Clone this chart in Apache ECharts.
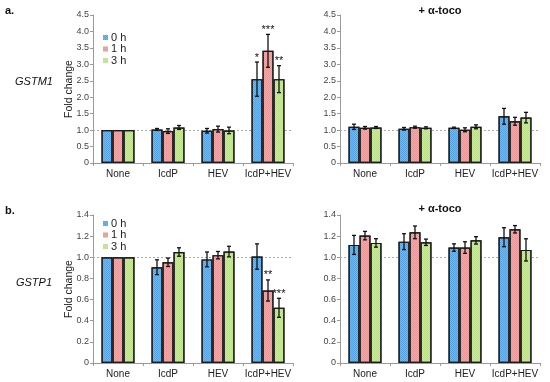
<!DOCTYPE html>
<html>
<head>
<meta charset="utf-8">
<script src="https://cdn.jsdelivr.net/npm/echarts@6/dist/echarts.min.js"></script>
<style>
html,body{margin:0;padding:0;background:#fff;}
#chart{width:550px;height:382px;}
</style>
</head>
<body>
<div id="chart"></div>
<script>
// ---------- DATA ----------
const categories = ['None', 'IcdP', 'HEV', 'IcdP+HEV'];
const timeLabels = ['0 h', '1 h', '3 h'];

// GSTM1 (panel a, left)
const gstm1_0h = [1.00, 1.02, 0.98, 2.55];
const gstm1_1h = [1.00, 0.97, 1.03, 3.41];
const gstm1_3h = [1.00, 1.08, 0.99, 2.55];
const gstm1_0h_err = [0, 0.03, 0.07, 0.52];
const gstm1_1h_err = [0, 0.07, 0.09, 0.50];
const gstm1_3h_err = [0, 0.06, 0.10, 0.41];
const gstm1_0h_sig = ['', '', '', '*'];
const gstm1_1h_sig = ['', '', '', '***'];
const gstm1_3h_sig = ['', '', '', '**'];

// GSTM1 + alpha-toco (panel a, right)
const gstm1Toco_0h = [1.10, 1.04, 1.07, 1.42];
const gstm1Toco_1h = [1.07, 1.09, 1.01, 1.27];
const gstm1Toco_3h = [1.08, 1.07, 1.10, 1.38];
const gstm1Toco_0h_err = [0.08, 0.04, 0.02, 0.24];
const gstm1Toco_1h_err = [0.04, 0.03, 0.06, 0.12];
const gstm1Toco_3h_err = [0.03, 0.03, 0.06, 0.16];

// GSTP1 (panel b, left)
const gstp1_0h = [1.00, 0.906, 0.98, 1.007];
const gstp1_1h = [1.00, 0.953, 1.02, 0.686];
const gstp1_3h = [1.00, 1.05, 1.054, 0.522];
const gstp1_0h_err = [0, 0.07, 0.07, 0.12];
const gstp1_1h_err = [0, 0.04, 0.035, 0.10];
const gstp1_3h_err = [0, 0.04, 0.05, 0.09];
const gstp1_0h_sig = ['', '', '', ''];
const gstp1_1h_sig = ['', '', '', '**'];
const gstp1_3h_sig = ['', '', '', '***'];

// GSTP1 + alpha-toco (panel b, right)
const gstp1Toco_0h = [1.117, 1.148, 1.092, 1.19];
const gstp1Toco_1h = [1.205, 1.236, 1.092, 1.265];
const gstp1Toco_3h = [1.136, 1.142, 1.16, 1.07];
const gstp1Toco_0h_err = [0.09, 0.075, 0.035, 0.09];
const gstp1Toco_1h_err = [0.04, 0.06, 0.055, 0.035];
const gstp1Toco_3h_err = [0.04, 0.03, 0.035, 0.105];

const noSig = ['', '', '', ''];

// ---------- STYLE ----------
const FONT = "'Liberation Sans', Arial, sans-serif";
const colors = ['#55a3e0', '#e69696', '#bce08a'];

const panels = [
  { vals: [gstm1_0h, gstm1_1h, gstm1_3h], errs: [gstm1_0h_err, gstm1_1h_err, gstm1_3h_err], sigs: [gstm1_0h_sig, gstm1_1h_sig, gstm1_3h_sig], max: 4.5, interval: 0.5, grid: { left: 93, top: 15, width: 200, height: 148 } },
  { vals: [gstm1Toco_0h, gstm1Toco_1h, gstm1Toco_3h], errs: [gstm1Toco_0h_err, gstm1Toco_1h_err, gstm1Toco_3h_err], sigs: [noSig, noSig, noSig], max: 4.5, interval: 0.5, grid: { left: 340, top: 15, width: 200, height: 148 } },
  { vals: [gstp1_0h, gstp1_1h, gstp1_3h], errs: [gstp1_0h_err, gstp1_1h_err, gstp1_3h_err], sigs: [gstp1_0h_sig, gstp1_1h_sig, gstp1_3h_sig], max: 1.4, interval: 0.2, grid: { left: 93, top: 215, width: 200, height: 148 } },
  { vals: [gstp1Toco_0h, gstp1Toco_1h, gstp1Toco_3h], errs: [gstp1Toco_0h_err, gstp1Toco_1h_err, gstp1Toco_3h_err], sigs: [noSig, noSig, noSig], max: 1.4, interval: 0.2, grid: { left: 340, top: 215, width: 200, height: 148 } }
];

const grids = [], xAxes = [], yAxes = [], series = [];

panels.forEach((p, gi) => {
  grids.push(p.grid);
  xAxes.push({
    type: 'category', gridIndex: gi, data: categories,
    axisLine: { lineStyle: { color: '#9a9a9a', width: 1 } },
    axisTick: { show: true, length: 3, lineStyle: { color: '#9a9a9a' } },
    axisLabel: { interval: 0, hideOverlap: false, fontFamily: FONT, fontSize: 10, color: '#222', margin: 6 }
  });
  yAxes.push({
    type: 'value', gridIndex: gi, min: 0, max: p.max, interval: p.interval,
    axisLine: { show: true, lineStyle: { color: '#9a9a9a', width: 1 } },
    axisTick: { show: true, length: 3, lineStyle: { color: '#9a9a9a' } },
    splitLine: { show: false },
    axisLabel: {
      fontFamily: FONT, fontSize: 9, color: '#444', margin: 4,
      formatter: v => (v === 0 ? '0' : v.toFixed(1))
    }
  });

  p.vals.forEach((vals, ti) => {
    const s = {
      type: 'bar', name: timeLabels[ti], xAxisIndex: gi, yAxisIndex: gi,
      data: vals, barWidth: '22%', barGap: '0%',
      itemStyle: {
        color: colors[ti], borderColor: '#1a1a1a', borderWidth: 1.2,
        decal: { symbol: 'rect', symbolSize: 1, dashArrayX: [[1, 1], [0, 1, 1, 0]], dashArrayY: [1, 0], color: 'rgba(255,255,255,0.22)' }
      },
      z: 2
    };
    if (ti === 0) {
      s.markLine = {
        silent: true, symbol: 'none', z: 1,
        label: { show: false },
        lineStyle: { type: [2, 2], color: '#aaaaaa', width: 1 },
        data: [{ yAxis: 1 }]
      };
    }
    series.push(s);
  });

  p.vals.forEach((vals, ti) => {
    const errs = p.errs[ti], sigs = p.sigs[ti];
    series.push({
      type: 'custom', xAxisIndex: gi, yAxisIndex: gi, z: 5, silent: true,
      data: vals.map((v, i) => [i, v, errs[i], sigs[i]]),
      renderItem: (params, api) => {
        const idx = api.value(0), v = api.value(1), e = api.value(2);
        const sig = p.sigs[ti][idx];
        const band = api.size([1, 0])[0];
        const bw = band * 0.22;
        const off = (ti - 1) * bw;
        const top = api.coord([idx, v + e]);
        const bot = api.coord([idx, v - e]);
        const x = top[0] + off;
        const children = [];
        if (e > 0) {
          const cap = 2;
          const ls = { stroke: '#111', lineWidth: 1.3 };
          children.push({ type: 'line', shape: { x1: x, y1: top[1], x2: x, y2: bot[1] }, style: ls });
          children.push({ type: 'line', shape: { x1: x - cap, y1: top[1], x2: x + cap, y2: top[1] }, style: ls });
          children.push({ type: 'line', shape: { x1: x - cap, y1: bot[1], x2: x + cap, y2: bot[1] }, style: ls });
        }
        if (sig) {
          children.push({
            type: 'text',
            style: { text: sig, x: x, y: top[1] + 1, textAlign: 'center', textVerticalAlign: 'bottom', fontFamily: FONT, fontSize: 11, fill: '#111' }
          });
        }
        return { type: 'group', children: children };
      }
    });
  });
});

const legendBase = {
  orient: 'vertical', left: 98, itemWidth: 5, itemHeight: 5, itemGap: 0.5,
  icon: 'rect', data: timeLabels, selectedMode: false,
  itemStyle: { borderWidth: 0 },
  textStyle: { fontFamily: FONT, fontSize: 11, color: '#222', lineHeight: 11, padding: [0, 0, 0, -2] }
};

const graphics = [
  { type: 'text', left: 5, top: 5, style: { text: 'a.', font: "bold 11px " + FONT, fill: '#111' } },
  { type: 'text', left: 5, top: 205, style: { text: 'b.', font: "bold 11px " + FONT, fill: '#111' } },
  { type: 'text', x: 34, y: 82, style: { text: 'GSTM1', font: "italic 11px " + FONT, fill: '#111', textAlign: 'center', textVerticalAlign: 'middle' } },
  { type: 'text', x: 34, y: 283, style: { text: 'GSTP1', font: "italic 11px " + FONT, fill: '#111', textAlign: 'center', textVerticalAlign: 'middle' } },
  { type: 'text', x: 69, y: 89, rotation: Math.PI / 2, style: { text: 'Fold change', font: "10.5px " + FONT, fill: '#222', textAlign: 'center', textVerticalAlign: 'middle' } },
  { type: 'text', x: 69, y: 289, rotation: Math.PI / 2, style: { text: 'Fold change', font: "10.5px " + FONT, fill: '#222', textAlign: 'center', textVerticalAlign: 'middle' } },
  { type: 'text', x: 440, y: 11, style: { text: '+ α-toco', font: "bold 11px " + FONT, fill: '#111', textAlign: 'center', textVerticalAlign: 'middle' } },
  { type: 'text', x: 440, y: 209, style: { text: '+ α-toco', font: "bold 11px " + FONT, fill: '#111', textAlign: 'center', textVerticalAlign: 'middle' } }
];

const chart = echarts.init(document.getElementById('chart'), null, { renderer: 'canvas' });
chart.setOption({
  animation: false,
  backgroundColor: '#fff',
  grid: grids,
  xAxis: xAxes,
  yAxis: yAxes,
  legend: [Object.assign({}, legendBase, { top: 27 }), Object.assign({}, legendBase, { top: 213 })],
  graphic: graphics,
  series: series
});
</script>
</body>
</html>
